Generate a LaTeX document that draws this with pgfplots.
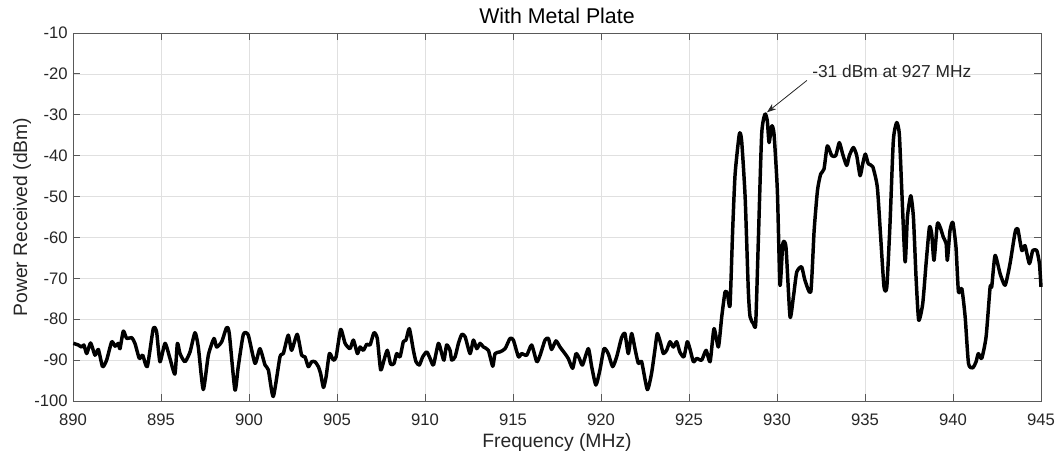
\documentclass[border=0pt]{standalone}
\usepackage{pgfplots}
\pgfplotsset{compat=1.18}
\usepackage{fontspec}
\setmainfont{Liberation Sans}
\usetikzlibrary{arrows.meta}
\definecolor{axgray}{gray}{0.35}
\definecolor{gridgray}{gray}{0.88}
\definecolor{txtgray}{gray}{0.15}
\begin{document}
\begin{tikzpicture}
\useasboundingbox (-54.75pt,-41.25pt) rectangle (740.25pt,300.75pt);
\begin{axis}[
 at={(0,0)}, anchor=south west,
 scale only axis, width=726pt, height=276pt,
 xmin=890, xmax=945, ymin=-100, ymax=-10,
 xtick={890,895,...,945}, ytick={-100,-90,...,-10},
 xticklabels={890,895,900,905,910,915,920,925,930,935,940,945},
 yticklabels={-100,-90,-80,-70,-60,-50,-40,-30,-20,-10},
 tick align=inside, tick pos=both, major tick length=5.5pt,
 grid=major, major grid style={gridgray, line width=0.5pt},
 axis line style={axgray, line width=0.7pt},
 every tick/.style={axgray, line width=0.7pt},
 tick label style={font=\fontsize{12.5}{14}\selectfont, text=txtgray},
 xticklabel style={anchor=base, yshift=-18.75pt},
 yticklabel style={anchor=east, inner sep=0pt, xshift=-3.75pt},
 xlabel={Frequency (MHz)}, ylabel={Power Received (dBm)},
 xlabel style={at={(axis description cs:0.5,-0.1268)}, anchor=base, font=\fontsize{14.5}{16}\selectfont, text=txtgray},
 ylabel style={at={(axis description cs:-0.0475,0.5)}, anchor=base, font=\fontsize{14.5}{16}\selectfont, text=txtgray},
 title={With Metal Plate},
 title style={at={(axis description cs:0.5,1.0246)}, anchor=center, font=\fontsize{16}{18}\selectfont, text=black, inner sep=0pt},
 clip=false,
]
\addplot[black, line width=2.6pt, line join=round, smooth, tension=0.35] coordinates {
(890.02,-85.9) (890.30,-86.3) (890.49,-86.8) (890.62,-86.3) (890.78,-88.4) (891.00,-85.8) (891.25,-88.8) (891.44,-87.4) (891.68,-91.6) (891.91,-90.0)
(892.20,-85.5) (892.39,-86.6) (892.57,-85.9) (892.67,-87.2) (892.86,-82.9) (893.05,-84.7) (893.33,-84.5) (893.52,-85.9) (893.77,-89.6) (893.96,-88.8)
(894.22,-91.6) (894.56,-82.3) (894.75,-83.1) (894.94,-90.4) (895.23,-85.9) (895.51,-89.6) (895.79,-93.4) (895.93,-85.9) (896.08,-88.4) (896.36,-90.4)
(896.65,-88.0) (896.93,-83.3) (897.12,-86.8) (897.40,-97.2) (897.69,-88.8) (898.01,-84.7) (898.16,-86.8) (898.45,-85.5) (898.73,-82.0) (898.88,-83.5)
(899.20,-97.3) (899.39,-91.6) (899.68,-83.7) (899.96,-83.9) (900.34,-90.8) (900.62,-87.2) (900.91,-91.2) (901.10,-92.4) (901.38,-98.9) (901.76,-89.2)
(901.95,-88.4) (902.23,-83.9) (902.42,-87.6) (902.74,-83.7) (902.99,-88.8) (903.18,-89.2) (903.37,-91.6) (903.56,-90.4) (903.75,-90.4) (903.94,-91.6)
(904.07,-93.3) (904.23,-96.7) (904.38,-94.1) (904.57,-88.4) (904.79,-90.0) (904.95,-89.2) (905.21,-82.5) (905.46,-85.9) (905.74,-87.2) (905.93,-85.1)
(906.16,-88.4) (906.31,-86.8) (906.50,-87.6) (906.69,-86.1) (906.88,-86.3) (907.10,-83.3) (907.29,-84.7) (907.48,-92.4) (907.67,-90.0) (907.86,-87.6)
(908.05,-91.0) (908.24,-90.8) (908.39,-88.4) (908.58,-89.2) (908.77,-85.5) (908.92,-85.1) (909.11,-82.3) (909.34,-87.6) (909.49,-90.4) (909.68,-91.2)
(909.87,-89.2) (910.10,-88.0) (910.29,-89.6) (910.48,-91.2) (910.76,-85.9) (910.95,-88.4) (911.08,-90.0) (911.23,-86.3) (911.42,-87.6) (911.52,-90.0)
(911.71,-89.2) (911.90,-85.9) (912.09,-83.7) (912.28,-84.3) (912.56,-88.4) (912.75,-85.1) (912.94,-87.2) (913.13,-85.9) (913.32,-86.8) (913.60,-87.6)
(913.85,-91.5) (913.98,-88.4) (914.26,-88.0) (914.55,-87.2) (914.83,-84.7) (915.02,-85.1) (915.31,-89.2) (915.49,-88.4) (915.78,-88.8) (916.06,-86.3)
(916.35,-90.4) (916.54,-88.8) (916.82,-85.1) (917.01,-84.7) (917.19,-87.4) (917.44,-85.3) (917.67,-86.8) (917.95,-88.4) (918.14,-89.6) (918.39,-92.0)
(918.58,-88.4) (918.77,-89.6) (918.95,-91.2) (919.28,-87.2) (919.47,-91.6) (919.71,-96.1) (919.94,-92.4) (920.17,-87.2) (920.41,-88.4) (920.66,-91.6)
(920.89,-89.2) (921.17,-84.5) (921.36,-83.5) (921.55,-88.4) (921.74,-83.5) (921.93,-87.2) (922.12,-90.8) (922.31,-90.4) (922.63,-97.2) (922.87,-93.3)
(923.06,-87.6) (923.20,-83.5) (923.39,-85.9) (923.54,-88.4) (923.73,-87.6) (923.92,-85.5) (924.11,-86.8) (924.30,-85.5) (924.48,-88.0) (924.71,-89.2)
(924.90,-85.5) (925.05,-87.2) (925.25,-90.4) (925.44,-89.6) (925.72,-90.0) (925.97,-87.6) (926.20,-90.4) (926.42,-82.3) (926.67,-86.8) (926.86,-79.4)
(927.05,-73.3) (927.18,-73.7) (927.33,-76.6) (927.48,-58.3) (927.62,-44.5) (927.86,-34.7) (927.99,-36.3) (928.19,-50.2) (928.37,-72.9) (928.47,-79.4)
(928.66,-81.1) (928.79,-81.1) (928.94,-60.7) (929.13,-34.7) (929.32,-29.8) (929.45,-31.5) (929.55,-36.8) (929.70,-32.7) (929.83,-34.7) (930.02,-48.5)
(930.17,-71.7) (930.33,-61.5) (930.51,-62.4) (930.74,-79.4) (930.93,-74.6) (931.12,-68.5) (931.40,-67.2) (931.59,-70.5) (931.92,-73.3) (932.11,-58.3)
(932.30,-48.5) (932.48,-44.5) (932.67,-43.3) (932.86,-37.6) (933.11,-40.0) (933.34,-40.0) (933.54,-36.8) (933.73,-39.6) (933.96,-42.4) (934.11,-40.0)
(934.34,-38.0) (934.53,-40.0) (934.72,-44.9) (934.87,-42.0) (935.02,-39.6) (935.19,-42.0) (935.44,-42.7) (935.70,-47.7) (935.89,-59.9) (936.08,-72.1)
(936.24,-72.1) (936.42,-56.7) (936.61,-36.3) (936.80,-31.9) (936.95,-34.7) (937.09,-48.5) (937.28,-66.0) (937.41,-55.0) (937.60,-49.8) (937.75,-55.0)
(937.90,-69.7) (938.05,-80.2) (938.28,-76.2) (938.47,-66.4) (938.66,-57.5) (938.79,-59.1) (938.92,-65.6) (939.11,-56.7) (939.27,-57.5) (939.45,-59.9)
(939.61,-61.5) (939.68,-65.6) (939.83,-58.3) (939.99,-56.3) (940.17,-62.4) (940.31,-73.3) (940.50,-72.5) (940.69,-79.4) (940.88,-90.8) (941.12,-91.9)
(941.31,-90.4) (941.44,-88.4) (941.63,-89.6) (941.88,-84.3) (942.11,-72.1) (942.20,-72.1) (942.39,-64.4) (942.68,-68.9) (942.96,-71.7) (943.24,-66.4)
(943.53,-58.7) (943.68,-57.9) (943.91,-63.2) (944.09,-62.0) (944.34,-66.4) (944.53,-63.2) (944.76,-63.2) (944.91,-66.4) (945.00,-72.1)
};
\draw[txtgray, line width=0.6pt, -{Stealth[length=7pt,width=5pt]}] (axis cs:931.70,-21.6) -- (axis cs:929.43,-29.4);
\node[anchor=base west, inner sep=0pt, font=\fontsize{13}{15}\selectfont, text=txtgray] at (axis cs:931.99,-20.8) {-31 dBm at 927 MHz};
\end{axis}
\end{tikzpicture}
\end{document}
